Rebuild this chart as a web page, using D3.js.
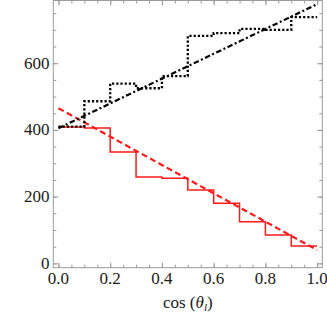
<!DOCTYPE html>
<html>
<head>
<meta charset="utf-8">
<script src="https://cdn.jsdelivr.net/npm/d3@7"></script>
</head>
<body style="margin:0">
<script>
// bin edges of the histograms (cos theta_l)
var binEdges = [0.0, 0.1, 0.2, 0.3, 0.4, 0.5, 0.6, 0.7, 0.8, 0.9, 1.0];
// black dotted histogram
var blackHist = [410, 486, 539, 525, 561, 682, 690, 703, 700, 738];
// red solid histogram
var redHist = [409, 406, 334, 259, 255, 220, 180, 125, 85, 52];
// straight line fits, [x, y]
var blackFit = [[0, 405], [1, 777]];
var redFit = [[0, 465], [1, 40]];
// ticks
var xMajor = [0, 0.2, 0.4, 0.6, 0.8, 1.0];
var xMinor = d3.range(0, 1.0001, 0.05);
var yMajor = [0, 200, 400, 600];
var yMinor = d3.range(0, 751, 50);

var W = 327, H = 313;
var frame = { left: 53.3, right: 322.3, top: 0.5, bottom: 267.7 };

var svg = d3.select("body").append("svg")
    .attr("width", W).attr("height", H);

var x = d3.scaleLinear().domain([-0.02, 1.02]).range([frame.left, frame.right]);
var y = d3.scaleLinear().domain([-13, 788]).range([frame.bottom, frame.top]);

svg.append("clipPath").attr("id", "clip")
    .append("rect")
    .attr("x", frame.left).attr("y", frame.top)
    .attr("width", frame.right - frame.left)
    .attr("height", frame.bottom - frame.top);

var frameColor = "#9a9a9a";

// ticks, pointing inward, on all four sides
function axisGroup(axis, tx, ty, vals, size) {
    var g = svg.append("g").attr("transform", "translate(" + tx + "," + ty + ")")
        .call(axis.tickValues(vals).tickSize(size).tickFormat(""));
    g.select(".domain").remove();
    g.selectAll("line").attr("stroke", frameColor).attr("stroke-width", 1);
    return g;
}
axisGroup(d3.axisBottom(x), 0, frame.bottom, xMinor, -3);
axisGroup(d3.axisBottom(x), 0, frame.bottom, xMajor, -5);
axisGroup(d3.axisTop(x), 0, frame.top, xMinor, -3);
axisGroup(d3.axisTop(x), 0, frame.top, xMajor, -5);
axisGroup(d3.axisLeft(y), frame.left, 0, yMinor, -3);
axisGroup(d3.axisLeft(y), frame.left, 0, yMajor, -5);
axisGroup(d3.axisRight(y), frame.right, 0, yMinor, -3);
axisGroup(d3.axisRight(y), frame.right, 0, yMajor, -5);

svg.append("rect")
    .attr("x", frame.left).attr("y", frame.top)
    .attr("width", frame.right - frame.left)
    .attr("height", frame.bottom - frame.top)
    .attr("fill", "none").attr("stroke", frameColor).attr("stroke-width", 1);

// tick labels
svg.selectAll("text.xt").data(xMajor).enter().append("text")
    .attr("class", "xt")
    .attr("x", function (d) { return x(d); })
    .attr("y", 284)
    .attr("text-anchor", "middle")
    .attr("font-size", 17)
    .attr("fill", "#1a1a1a")
    .style("font-family", "'Liberation Serif'")
    .text(function (d) { return d3.format(".1f")(d); });

svg.selectAll("text.yt").data(yMajor).enter().append("text")
    .attr("class", "yt")
    .attr("x", 49.5)
    .attr("y", function (d) { return y(d) + 5.5; })
    .attr("text-anchor", "end")
    .attr("font-size", 17)
    .attr("fill", "#1a1a1a")
    .style("font-family", "'Liberation Serif'")
    .text(function (d) { return d; });

// axis label
var lab = svg.append("text")
    .attr("x", (x(0) + x(1)) / 2)
    .attr("y", 308)
    .attr("text-anchor", "middle")
    .attr("font-size", 17)
    .attr("fill", "#1a1a1a")
    .style("font-family", "'Liberation Serif'");
lab.append("tspan").text("cos (");
lab.append("tspan").attr("font-style", "italic").text("θ");
lab.append("tspan").attr("font-style", "italic").attr("font-size", 11).attr("dy", 3).text("l");
lab.append("tspan").attr("dy", -3).text(")");

var plot = svg.append("g").attr("clip-path", "url(#clip)");

function stepPoints(vals) {
    var pts = vals.map(function (v, i) { return [binEdges[i], v]; });
    pts.push([binEdges[binEdges.length - 1], vals[vals.length - 1]]);
    return pts;
}

var stepLine = d3.line()
    .x(function (d) { return x(d[0]); })
    .y(function (d) { return y(d[1]); })
    .curve(d3.curveStepAfter);
var straight = d3.line()
    .x(function (d) { return x(d[0]); })
    .y(function (d) { return y(d[1]); });

// red solid histogram
plot.append("path")
    .attr("d", stepLine(stepPoints(redHist)))
    .attr("fill", "none").attr("stroke", "#ff1a1a").attr("stroke-width", 1.5);

// red dashed fit
plot.append("path")
    .attr("d", straight(redFit))
    .attr("fill", "none").attr("stroke", "#ff1a1a").attr("stroke-width", 2.2)
    .attr("stroke-dasharray", "6,3.5");

// black dotted histogram
plot.append("path")
    .attr("d", stepLine(stepPoints(blackHist)))
    .attr("fill", "none").attr("stroke", "#000").attr("stroke-width", 2.3)
    .attr("stroke-dasharray", "2.2,2");

// black dash-dot fit
plot.append("path")
    .attr("d", straight(blackFit))
    .attr("fill", "none").attr("stroke", "#000").attr("stroke-width", 2.2)
    .attr("stroke-dasharray", "5.5,2.5,2,2.5");
</script>
</body>
</html>
